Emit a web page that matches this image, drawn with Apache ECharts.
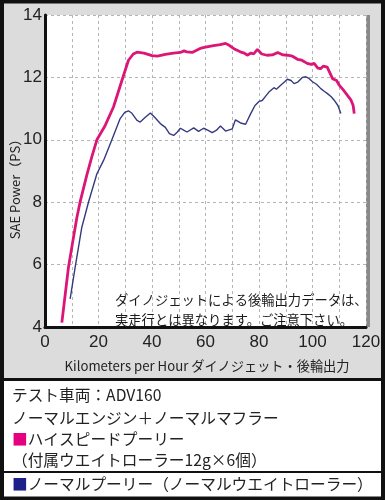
<!DOCTYPE html>
<html>
<head>
<meta charset="utf-8">
<script src="https://cdn.jsdelivr.net/npm/echarts@6/dist/echarts.min.js"></script>
<style>
  html, body { margin: 0; padding: 0; background: #fff; }
  #chart { width: 385px; height: 500px; }
</style>
</head>
<body>
<div id="chart"></div>
<script>
// ハイスピードプーリー
const kmHigh = [6.3, 8.75, 10.5, 11.9, 13.1, 15.6, 17.5, 19.4, 22.5, 25.6, 28.75, 31.2, 33, 34.4, 37, 40, 42, 45, 48, 50.6, 52, 53, 55, 58, 60, 63, 65.5, 67.5, 69, 71, 73, 74.5, 75.6, 77, 78, 79.4, 81, 83, 85, 87, 89, 90.6, 92.5, 94.4, 96, 98, 99.5, 100.6, 102, 103, 104, 105.5, 107.5, 109, 110, 111.5, 112.5, 114.4, 115.2, 115.6]
const psHigh = [4.14, 5.9, 6.8, 7.5, 8.0, 8.86, 9.45, 10.0, 10.46, 11.05, 11.9, 12.55, 12.75, 12.81, 12.78, 12.7, 12.68, 12.74, 12.78, 12.8, 12.85, 12.82, 12.8, 12.93, 12.97, 13.02, 13.05, 13.09, 13.02, 12.9, 12.82, 12.78, 12.71, 12.78, 12.75, 12.9, 12.75, 12.71, 12.72, 12.8, 12.72, 12.71, 12.68, 12.58, 12.55, 12.45, 12.42, 12.45, 12.3, 12.28, 12.36, 12.33, 11.96, 11.9, 11.75, 11.6, 11.49, 11.27, 11.1, 10.84]
// ノーマルプーリー
const kmNormal = [9.4, 11.25, 13.75, 16.25, 19.4, 21.9, 25, 28.1, 29.8, 31.2, 32.5, 34.4, 35.6, 37.5, 39.4, 41, 43.1, 45, 46.5, 48.1, 49.5, 50.6, 52, 53.1, 55.6, 57.4, 59.3, 61, 62.5, 64, 65.6, 67.5, 70, 71.2, 73.1, 75, 76.9, 78.5, 80, 81.2, 82.5, 83.7, 85.6, 86.5, 88.1, 89.5, 90.6, 92, 93.1, 94.5, 96.2, 97.5, 98.5, 100, 101.5, 103.1, 104.5, 105.6, 107, 108.1, 109.5, 110.6]
const psNormal = [4.9, 5.9, 7.19, 8.0, 8.91, 9.34, 10.0, 10.68, 10.88, 10.93, 10.85, 10.62, 10.57, 10.72, 10.86, 10.72, 10.52, 10.4, 10.2, 10.14, 10.25, 10.37, 10.3, 10.25, 10.38, 10.27, 10.37, 10.3, 10.23, 10.3, 10.44, 10.28, 10.35, 10.64, 10.54, 10.5, 10.84, 11.1, 11.23, 11.26, 11.4, 11.53, 11.67, 11.62, 11.75, 11.85, 11.94, 11.9, 11.8, 11.85, 12.0, 12.02, 11.98, 11.86, 11.78, 11.64, 11.55, 11.48, 11.38, 11.27, 11.1, 10.84]

const legendLines = [
  'テスト車両：ADV160',
  'ノーマルエンジン＋ノーマルマフラー',
  '{pink|■}ハイスピードプーリー',
  '（付属ウエイトローラー12g×6個）',
  '{navy|■}ノーマルプーリー（ノーマルウエイトローラー）'
]
const noteLines = ['ダイノジェットによる後輪出力データは、', '実走行とは異なります。ご注意下さい。']

const pink = '#dc1677'
const navy = '#353a80'
const numFont = '"Liberation Sans", Arial, sans-serif'
const jpFont = '"Noto Sans CJK JP", sans-serif'

const zip = (xs, ys) => xs.map((x, i) => [x, ys[i]])

const chart = echarts.init(document.getElementById('chart'))
const legendY = [395, 418, 439, 460, 484]

chart.setOption({
  backgroundColor: '#dcdcdc',
  animation: false,
  grid: {
    left: 45,
    top: 15,
    width: 321,
    height: 312,
    show: true,
    backgroundColor: '#fff',
    borderWidth: 0,
    shadowColor: '#8a8a8a',
    shadowBlur: 0,
    shadowOffsetX: 4,
    shadowOffsetY: 0
  },
  xAxis: {
    type: 'value',
    min: 0,
    max: 120,
    interval: 10,
    axisLine: { onZero: false, lineStyle: { color: '#111', width: 3 } },
    axisTick: { show: false },
    splitLine: { lineStyle: { color: '#b5b5b5', type: [3, 3], width: 1 } },
    axisLabel: {
      margin: 7,
      fontSize: 17,
      fontFamily: numFont,
      color: '#222',
      formatter: (v) => (v % 20 === 0 ? String(v) : '')
    }
  },
  yAxis: {
    type: 'value',
    min: 4,
    max: 14,
    interval: 2,
    axisLine: { show: true, lineStyle: { color: '#111', width: 3 } },
    axisTick: { show: false },
    splitLine: { lineStyle: { color: '#b5b5b5', type: [3, 3], width: 1 } },
    axisLabel: { margin: 3, fontSize: 17, fontFamily: numFont, color: '#222' }
  },
  series: [
    {
      name: 'ノーマルプーリー',
      type: 'line',
      data: zip(kmNormal, psNormal),
      showSymbol: false,
      lineStyle: { color: navy, width: 1.4 },
      z: 3
    },
    {
      name: 'ハイスピードプーリー',
      type: 'line',
      data: zip(kmHigh, psHigh),
      showSymbol: false,
      lineStyle: { color: pink, width: 2.8 },
      z: 4
    }
  ],
  graphic: [
    // y軸名・x軸名
    {
      type: 'text',
      x: 15,
      y: 186,
      rotation: Math.PI / 2,
      style: {
        text: 'SAE Power（PS）',
        font: '13px ' + jpFont,
        fill: '#222',
        align: 'center',
        verticalAlign: 'middle'
      }
    },
    {
      type: 'text',
      x: 207,
      y: 366,
      style: {
        text: 'Kilometers per Hour ダイノジェット・後輪出力',
        font: '13.2px ' + jpFont,
        fill: '#222',
        align: 'center',
        verticalAlign: 'middle'
      }
    },
    // 注記
    ...noteLines.map((t, i) => ({
      type: 'text',
      x: 115,
      y: 300 + i * 20,
      z: 10,
      style: {
        text: t,
        font: '13.3px ' + jpFont,
        fill: '#1a1a1a',
        align: 'left',
        verticalAlign: 'middle'
      }
    })),
    // 凡例パネル
    {
      type: 'rect',
      shape: { x: 0, y: 379, width: 385, height: 121 },
      style: { fill: '#fff' }
    },
    {
      type: 'line',
      shape: { x1: 0, y1: 379.5, x2: 385, y2: 379.5 },
      style: { stroke: '#111', lineWidth: 3 }
    },
    {
      type: 'line',
      shape: { x1: 0, y1: 472, x2: 385, y2: 472 },
      style: { stroke: '#111', lineWidth: 2 }
    },
    ...legendLines.map((t, i) => ({
      type: 'text',
      x: 12,
      y: legendY[i],
      style: {
        text: t,
        font: '15.7px ' + jpFont,
        fill: '#222',
        verticalAlign: 'middle',
        rich: {
          pink: { fill: '#e4007f', font: '15.7px ' + jpFont },
          navy: { fill: '#1d2088', font: '15.7px ' + jpFont }
        }
      }
    })),
    // 外枠
    {
      type: 'rect',
      shape: { x: 2, y: 1.5, width: 381, height: 497 },
      style: { fill: 'none', stroke: '#111', lineWidth: 4 }
    }
  ]
})
</script>
</body>
</html>
